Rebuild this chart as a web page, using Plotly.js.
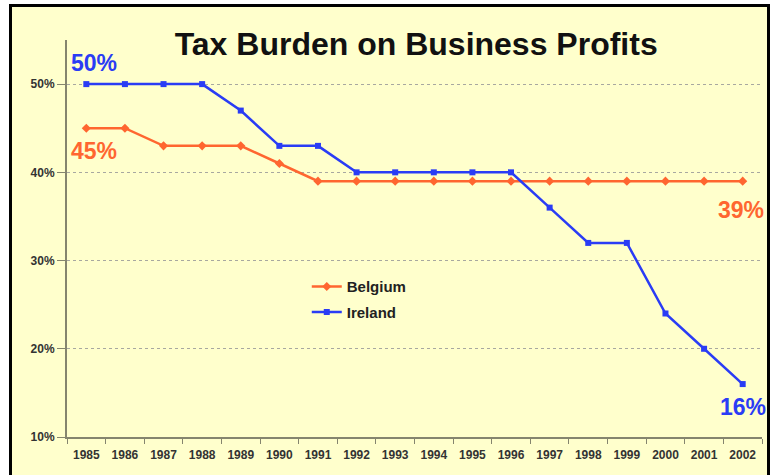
<!DOCTYPE html>
<html>
<head>
<meta charset="utf-8">
<script src="https://cdn.plot.ly/plotly-3.0.1.min.js"></script>
<style>
	html, body { margin: 0; padding: 0; background: #ffffff; }
	#frame {
		position: absolute; left: 9px; top: 4px; width: 755px; height: 480px;
		border: 3px solid #000; background: #ffffcc;
	}
	#chart { position: absolute; left: 0; top: 0; width: 775px; height: 475px; }
</style>
</head>
<body>
<div id="frame"></div>
<div id="chart"></div>
<script>
"use strict";

//DATA
const years = ["1985", "1986", "1987", "1988", "1989", "1990", "1991", "1992", "1993",
	"1994", "1995", "1996", "1997", "1998", "1999", "2000", "2001", "2002"];
const belgium = [45, 45, 43, 43, 43, 41, 39, 39, 39, 39, 39, 39, 39, 39, 39, 39, 39, 39];
const ireland = [50, 50, 50, 50, 47, 43, 43, 40, 40, 40, 40, 40, 36, 32, 32, 24, 20, 16];
const yTicks = [10, 20, 30, 40, 50];
const yLabels = yTicks.map((v) => v + "%");

const ORANGE = "#ff6630";
const BLUE = "#2a3cf5";
const FONT = "Arial, 'Liberation Sans', sans-serif";

//TRACES
const graph = [
	{
		name: "Belgium", x: years, y: belgium,
		type: 'scatter', mode: 'lines+markers',
		line: {color: ORANGE, width: 2.5},
		marker: {symbol: 'diamond', size: 7, color: ORANGE},
		legendgroup: 'a'
	},
	{
		name: "Ireland", x: years, y: ireland,
		type: 'scatter', mode: 'lines+markers',
		line: {color: BLUE, width: 2.5},
		marker: {symbol: 'square', size: 6, color: BLUE},
		legendgroup: 'b'
	}
];

//value labels at the ends of the series
function endLabel(i, arr, color, xs, ys){
	return {
		x: i, y: arr[i], xref: 'x', yref: 'y',
		text: "<b>" + arr[i] + "%</b>", showarrow: false,
		xshift: xs, yshift: ys,
		font: {family: FONT, size: 23, color: color}
	};
}

const last = years.length - 1;

const layout = {
	width: 775, height: 475,
	margin: {l: 67, r: 13, t: 40, b: 38},
	paper_bgcolor: 'rgba(0,0,0,0)',
	plot_bgcolor: 'rgba(0,0,0,0)',
	font: {family: FONT, color: '#333'},
	title: {
		text: "Tax Burden on Business Profits",
		font: {family: FONT, size: 32, color: '#111', weight: 'bold'},
		x: 0.537, xanchor: 'center', y: 0.908, yanchor: 'middle', yref: 'container'
	},
	xaxis: {
		type: 'category', range: [-0.5, 17.5],
		showline: true, linecolor: '#85856e', linewidth: 2,
		ticks: 'outside', ticklen: 5, tickcolor: '#85856e', tickson: 'boundaries',
		ticklabelstandoff: 6,
		tickfont: {family: FONT, size: 12, color: '#333', weight: 'bold'},
		showgrid: false, zeroline: false, fixedrange: true
	},
	yaxis: {
		range: [10, 55], tickmode: 'array', tickvals: yTicks, ticktext: yLabels,
		showline: true, linecolor: '#85856e', linewidth: 2,
		ticks: 'outside', ticklen: 8, tickcolor: '#85856e',
		tickfont: {family: FONT, size: 12, color: '#333', weight: 'bold'},
		showgrid: true, gridcolor: '#a8a8a0', griddash: 'dot', gridwidth: 1,
		zeroline: false, fixedrange: true
	},
	showlegend: true,
	legend: {
		x: 0.345, y: 0.42, xanchor: 'left', yanchor: 'top',
		bgcolor: 'rgba(0,0,0,0)', traceorder: 'grouped', tracegroupgap: 3,
		font: {family: FONT, size: 15, color: '#222', weight: 'bold'},
		itemwidth: 30
	},
	annotations: [
		endLabel(0, ireland, BLUE, 8, 21),
		endLabel(0, belgium, ORANGE, 8, -23),
		endLabel(last, belgium, ORANGE, -2, -29),
		endLabel(last, ireland, BLUE, 0, -23)
	]
};

Plotly.newPlot('chart', graph, layout, {displayModeBar: false});
</script>
</body>
</html>
